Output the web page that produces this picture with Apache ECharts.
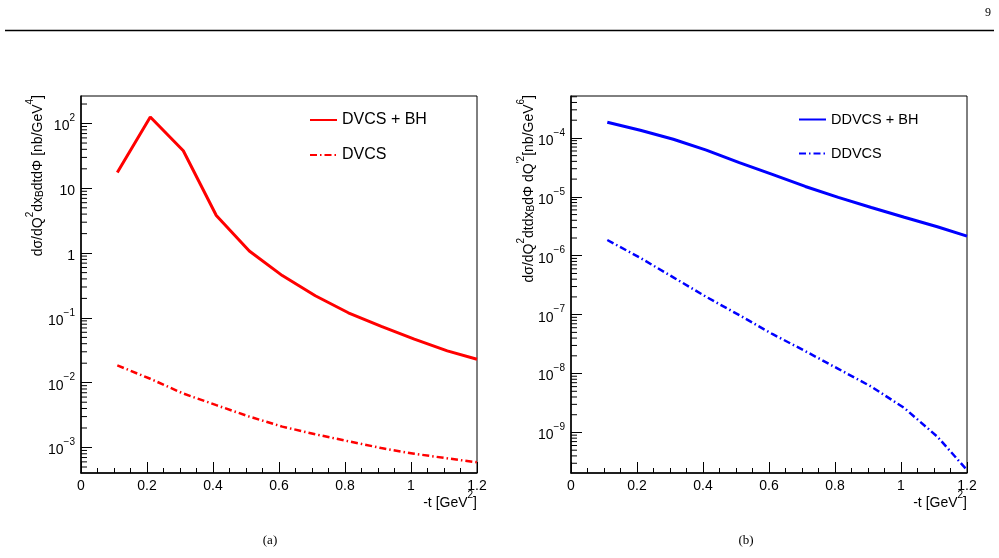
<!DOCTYPE html>
<html>
<head>
<meta charset="UTF-8">
<title></title>
<script src="https://cdn.jsdelivr.net/npm/echarts@6/dist/echarts.min.js"></script>
<style>
  html, body { margin: 0; padding: 0; background: #fff; }
</style>
</head>
<body>
<div id="main" style="width:999px;height:558px;"></div>
<script type="text/javascript">
// -t values [GeV^2]
var tValues = [0.11, 0.21, 0.31, 0.41, 0.51, 0.61, 0.71, 0.81, 0.91, 1.01, 1.11, 1.2];
// panel (a) [nb/GeV^4]
var dvcsBh = [17.6, 126, 38, 3.8, 1.08, 0.45, 0.22, 0.12, 0.074, 0.047, 0.031, 0.023];
var dvcs = [0.0185, 0.0115, 0.0068, 0.0045, 0.0030, 0.0021, 0.0016, 0.00125, 0.00098, 0.00080, 0.00068, 0.00059];
// panel (b) [nb/GeV^6]
var ddvcsBh = [1.85e-4, 1.35e-4, 9.5e-5, 6.2e-5, 3.8e-5, 2.4e-5, 1.5e-5, 9.8e-6, 6.6e-6, 4.5e-6, 3.1e-6, 2.15e-6];
var ddvcs = [1.85e-6, 9.2e-7, 4.3e-7, 2.0e-7, 9.8e-8, 4.7e-8, 2.4e-8, 1.2e-8, 6.0e-9, 2.6e-9, 8.5e-10, 2.3e-10];

var FONT = 'Liberation Sans';
var myChart = echarts.init(document.getElementById('main'));

function pairs(ys) {
    return tValues.map(function(t, i) { return [t, ys[i]]; });
}

// minor ticks 2..9 x 10^n inside a log range
function minorTicks(lo, hi) {
    var out = [];
    for (var e = Math.floor(Math.log10(lo)); e <= Math.ceil(Math.log10(hi)); e++) {
        for (var k = 2; k <= 9; k++) {
            var v = k * Math.pow(10, e);
            if (v > lo && v < hi) out.push([0, v]);
        }
    }
    return out;
}

var supRich = {
    b: { fontSize: 14, fontFamily: FONT, color: '#000', lineHeight: 20, verticalAlign: 'bottom' },
    s: { fontSize: 10, fontFamily: FONT, color: '#000', lineHeight: 10, verticalAlign: 'top' },
    u: { fontSize: 10, fontFamily: FONT, color: '#000', lineHeight: 10, verticalAlign: 'bottom' }
};

function logLabel(plainSmall) {
    return function(v) {
        var e = Math.round(Math.log10(v));
        if (plainSmall && e === 0) return '{b|1}';
        if (plainSmall && e === 1) return '{b|10}';
        return '{b|10}{s|' + (e < 0 ? '\u2212' + (-e) : e) + '}';
    };
}

var yRange = [[4.04e-4, 266], [2.05e-10, 5.15e-4]];

function xAxis(idx) {
    return {
        type: 'value', gridIndex: idx, min: 0, max: 1.2, interval: 0.2,
        axisLine: { onZero: false, lineStyle: { color: '#000', width: 1.5 } },
        axisTick: { inside: true, length: 11, lineStyle: { color: '#000' } },
        minorTick: { show: true, splitNumber: 4, length: 5, lineStyle: { color: '#000' } },
        splitLine: { show: false },
        axisLabel: { color: '#000', fontSize: 14, fontFamily: FONT, margin: 6 }
    };
}

function yAxis(idx, plainSmall) {
    return {
        type: 'log', logBase: 10, gridIndex: idx,
        min: yRange[idx][0], max: yRange[idx][1],
        axisLine: { onZero: false, lineStyle: { color: '#000', width: 1.5 } },
        axisTick: { inside: true, length: 11, lineStyle: { color: '#000' } },
        splitLine: { show: false },
        axisLabel: {
            margin: 6, showMinLabel: false, showMaxLabel: false,
            formatter: logLabel(plainSmall), rich: supRich
        }
    };
}

function tickSeries(idx) {
    return {
        type: 'custom', name: 'minor' + idx, xAxisIndex: idx, yAxisIndex: idx,
        silent: true, clip: false, z: 5,
        data: minorTicks(yRange[idx][0], yRange[idx][1]),
        renderItem: function(params, api) {
            var p = api.coord([0, api.value(1)]);
            return {
                type: 'line',
                shape: { x1: p[0], y1: p[1], x2: p[0] + 6, y2: p[1] },
                style: { stroke: '#000', lineWidth: 1 }
            };
        }
    };
}

var dashDot = [7, 3, 1.5, 3];

myChart.setOption({
    backgroundColor: '#fff',
    animation: false,
    grid: [
        { left: 81, top: 96, width: 396, height: 377, show: true, borderColor: '#000', borderWidth: 1 },
        { left: 571, top: 96, width: 396, height: 377, show: true, borderColor: '#000', borderWidth: 1 }
    ],
    xAxis: [xAxis(0), xAxis(1)],
    yAxis: [yAxis(0, true), yAxis(1, false)],
    legend: [{
        data: ['DVCS + BH', 'DVCS'], orient: 'vertical', left: 309, top: 112, padding: 0,
        itemWidth: 27, itemHeight: 14, itemGap: 19, itemStyle: { opacity: 0 },
        textStyle: { color: '#000', fontSize: 16, fontFamily: FONT }
    }, {
        data: ['DDVCS + BH', 'DDVCS'], orient: 'vertical', left: 798, top: 112, padding: 0,
        itemWidth: 27, itemHeight: 14, itemGap: 19, itemStyle: { opacity: 0 },
        textStyle: { color: '#000', fontSize: 14.5, fontFamily: FONT }
    }],
    graphic: [
        { type: 'line', shape: { x1: 5, y1: 30.5, x2: 994, y2: 30.5 }, style: { stroke: '#000', lineWidth: 1.5 } },
        { type: 'text', x: 988, y: 13, style: { text: '9', font: '12px "Liberation Serif"', fill: '#000', textAlign: 'center', textVerticalAlign: 'middle' } },
        { type: 'text', x: 270, y: 541, style: { text: '(a)', font: '13px "Liberation Serif"', fill: '#000', textAlign: 'center', textVerticalAlign: 'middle' } },
        { type: 'text', x: 746, y: 541, style: { text: '(b)', font: '13px "Liberation Serif"', fill: '#000', textAlign: 'center', textVerticalAlign: 'middle' } },
        { type: 'text', x: 477, y: 500, style: {
            text: '{b|-t [GeV}{s|2}{b|]}', rich: supRich, textAlign: 'right', textVerticalAlign: 'middle' } },
        { type: 'text', x: 967, y: 500, style: {
            text: '{b|-t [GeV}{s|2}{b|]}', rich: supRich, textAlign: 'right', textVerticalAlign: 'middle' } },
        { type: 'text', x: 35, y: 95, rotation: Math.PI / 2, style: {
            text: '{b|d\u03c3/dQ}{s|2}{b|dx}{u|B}{b|dtd\u03a6 [nb/GeV}{s|4}{b|]}',
            rich: supRich, textAlign: 'right', textVerticalAlign: 'middle' } },
        { type: 'text', x: 526, y: 95, rotation: Math.PI / 2, style: {
            text: '{b|d\u03c3/dQ}{s|2}{b|dtdx}{u|B}{b|d\u03a6 dQ}{s|\'2}{b|[nb/GeV}{s|6}{b|]}',
            rich: supRich, textAlign: 'right', textVerticalAlign: 'middle' } }
    ],
    series: [
        { name: 'DVCS + BH', type: 'line', xAxisIndex: 0, yAxisIndex: 0, data: pairs(dvcsBh),
          symbol: 'none', color: '#ff0000', lineStyle: { color: '#ff0000', width: 3 } },
        { name: 'DVCS', type: 'line', xAxisIndex: 0, yAxisIndex: 0, data: pairs(dvcs),
          symbol: 'none', color: '#ff0000', lineStyle: { color: '#ff0000', width: 2.5, type: dashDot } },
        { name: 'DDVCS + BH', type: 'line', xAxisIndex: 1, yAxisIndex: 1, data: pairs(ddvcsBh),
          symbol: 'none', color: '#0000ff', lineStyle: { color: '#0000ff', width: 3 } },
        { name: 'DDVCS', type: 'line', xAxisIndex: 1, yAxisIndex: 1, data: pairs(ddvcs),
          symbol: 'none', color: '#0000ff', lineStyle: { color: '#0000ff', width: 2.5, type: dashDot } },
        tickSeries(0),
        tickSeries(1)
    ]
});
</script>
</body>
</html>
